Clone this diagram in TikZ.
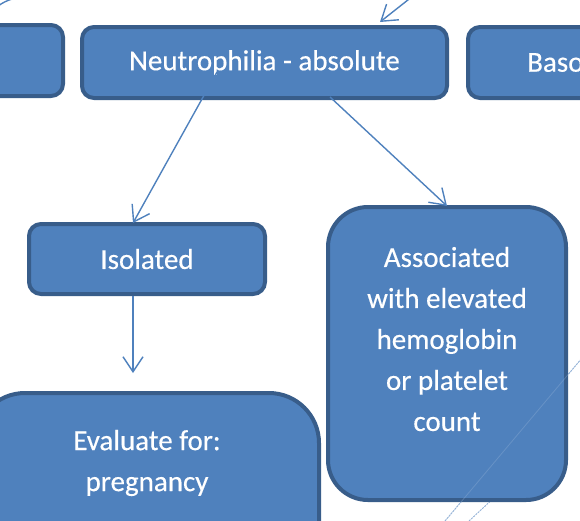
\documentclass[tikz,border=0pt]{standalone}
\usepackage{fontspec}
\setmainfont{Carlito}
\newfontfamily\boxfont{Carlito}[FakeBold=0.35]
\usetikzlibrary{arrows.meta}
\definecolor{boxfill}{HTML}{4F81BD}
\definecolor{boxline}{HTML}{385D8A}
\definecolor{dashblue}{HTML}{95B3D7}
\begin{document}
\begin{tikzpicture}[x=1pt,y=-1pt,
  box/.style={draw=boxline,fill=boxfill,line width=4pt,rounded corners=12pt,
    text=white,font=\boxfont\fontsize{29}{41}\selectfont,inner sep=0pt,align=center},
  boxtext/.style={text=white,font=\boxfont\fontsize{29}{41}\selectfont,inner sep=0pt,align=center},
  conn/.style={draw=boxfill,line width=1.4pt,
    -{Straight Barb[length=15pt,width=20pt,line width=1.4pt]}},
  plainconn/.style={draw=boxfill,line width=1.4pt},
  dashl/.style={draw=dashblue,line width=0.9pt,dash pattern=on 2pt off 1pt}]
\useasboundingbox (0,0) rectangle (580,520);
\clip (0,0) rectangle (580,520);

% dashed lines behind the big box
\coordinate (d1a) at (445,521);
\coordinate (d1b) at (582,358);
\coordinate (d2a) at (469,521);
\coordinate (d2b) at (540,455);
\draw[dashl] (d1a) -- (d1b);
\draw[dashl] (d2a) -- (d2b);

% boxes
\node[box,minimum width=131pt,minimum height=71pt] (left) at (-2.5,60.5) {};
\node[box,minimum width=365pt,minimum height=71pt] (neu) at (264.5,62.5) {Neutrophilia - absolute};
\node[box,minimum width=365pt,minimum height=71pt] (baso) at (650.5,62.5) {};
\node[boxtext,anchor=west] (basotext) at (527,62.5) {Baso};
\node[box,minimum width=236pt,minimum height=70pt] (iso) at (147,259) {Isolated};
\node[box,rounded corners=40pt,minimum width=238pt,minimum height=293pt] (ass) at (447,353.5) {};
\node[boxtext] (asstext) at (447,339) {Associated\\with elevated\\hemoglobin\\or platelet\\count};
\node[box,rounded corners=50pt,minimum width=344pt,minimum height=246pt] (eval) at (147,516) {};
\node[boxtext] (evaltext) at (147,463) {Evaluate for:\\pregnancy};

% faint line across the big box
\draw[draw=dashblue,line width=0.8pt,opacity=0.35] (d1a) -- (d1b);

% connectors
\coordinate (topin) at (418,-8);
\coordinate (toptip) at (380,22);
\draw[conn] (topin) -- (toptip);
\coordinate (tl1) at (-2,6);
\coordinate (tl2) at (12,-1);
\draw[plainconn] (tl1) to[bend left=8] (tl2);

\coordinate (n1) at (217,72);
\coordinate (n2) at (330,97);
\draw[conn] (n1) -- ([xshift=-14pt,yshift=-1pt]iso.north);
\draw[conn] (n2) -- ([yshift=-1pt]ass.north);
\coordinate (isoout) at (133,373);
\draw[conn] ([xshift=-14pt]iso.south) -- (isoout);
\end{tikzpicture}
\end{document}
